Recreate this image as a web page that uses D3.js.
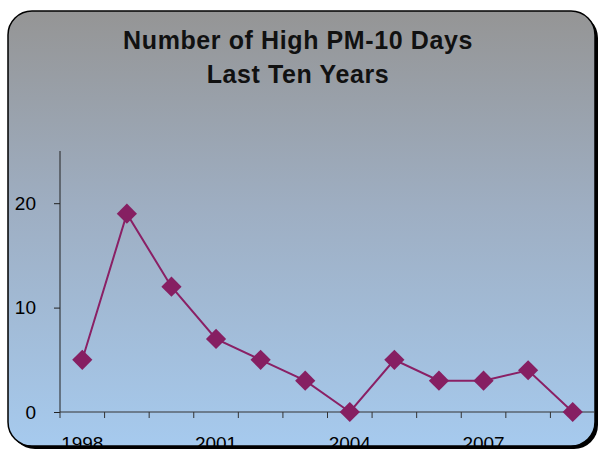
<!DOCTYPE html>
<html>
<head>
<meta charset="utf-8">
<script src="https://cdn.jsdelivr.net/npm/d3@7"></script>
<style>
  body { margin: 0; background: #fff; }
  svg { display: block; font-family: "Liberation Sans", Arial, sans-serif; }
</style>
</head>
<body>
<div id="chart"></div>
<script>
// Data.
const years = [1998, 1999, 2000, 2001, 2002, 2003, 2004, 2005, 2006, 2007, 2008, 2009];
const highDays = [5, 19, 12, 7, 5, 3, 0, 5, 3, 3, 4, 0];
const yTicks = [0, 10, 20];
const yearLabels = [1998, 2001, 2004, 2007];
const titleLines = ['Number of High PM-10 Days', 'Last Ten Years'];

const width = 600, height = 450;
const frame = { x: 8, y: 11, w: 587, h: 435, r: 24 };
const plot = { left: 60, right: 595, top: 151, bottom: 412 };

const svg = d3.select('#chart')
  .append('svg')
  .attr('width', width)
  .attr('height', height);

const defs = svg.append('defs');

// Background gradient.
const grad = defs.append('linearGradient')
  .attr('id', 'bg')
  .attr('x1', 0).attr('y1', 0)
  .attr('x2', 0).attr('y2', 1);
grad.append('stop').attr('offset', '0%').attr('stop-color', '#959595');
grad.append('stop').attr('offset', '45%').attr('stop-color', '#9eaec2');
grad.append('stop').attr('offset', '100%').attr('stop-color', '#a6caee');

defs.append('clipPath')
  .attr('id', 'frameClip')
  .append('rect')
  .attr('x', frame.x).attr('y', frame.y)
  .attr('width', frame.w).attr('height', frame.h)
  .attr('rx', frame.r);

// Frame shadow + frame.
svg.append('rect')
  .attr('x', frame.x + 3).attr('y', frame.y + 3)
  .attr('width', frame.w).attr('height', frame.h)
  .attr('rx', frame.r)
  .attr('fill', '#000');

svg.append('rect')
  .attr('x', frame.x).attr('y', frame.y)
  .attr('width', frame.w).attr('height', frame.h)
  .attr('rx', frame.r)
  .attr('fill', 'url(#bg)')
  .attr('stroke', '#000')
  .attr('stroke-width', 1.5);

const g = svg.append('g').attr('clip-path', 'url(#frameClip)');

// Title.
g.append('text')
  .attr('text-anchor', 'middle')
  .attr('font-weight', 'bold')
  .attr('font-size', '25px')
  .attr('letter-spacing', '0.6px')
  .attr('fill', '#111')
  .selectAll('tspan')
  .data(titleLines)
  .join('tspan')
  .attr('x', 298)
  .attr('y', (d, i) => 49 + i * 34)
  .text(d => d);

// Scales.
const x = d3.scaleBand()
  .domain(years)
  .range([plot.left, plot.right])
  .padding(0);

const y = d3.scaleLinear()
  .domain([0, 25])
  .range([plot.bottom, plot.top]);

// Y axis.
const yAxis = d3.axisLeft(y)
  .tickValues(yTicks)
  .tickSize(6)
  .tickPadding(18)
  .tickFormat(d3.format('d'));

const yAxisDraw = g.append('g')
  .attr('transform', `translate(${plot.left},0)`)
  .call(yAxis);
yAxisDraw.select('.domain').remove();
yAxisDraw.selectAll('line').attr('stroke', '#222');
yAxisDraw.selectAll('text')
  .attr('font-size', '19px')
  .attr('font-family', '"Liberation Sans", Arial, sans-serif')
  .attr('fill', '#000');

g.append('line')
  .attr('x1', plot.left).attr('x2', plot.left)
  .attr('y1', plot.top).attr('y2', plot.bottom)
  .attr('stroke', '#222');

// X axis: ticks between categories, labels every third year.
const edges = years.map(d => x(d)).concat([plot.right]);
g.append('line')
  .attr('x1', plot.left).attr('x2', plot.right)
  .attr('y1', plot.bottom).attr('y2', plot.bottom)
  .attr('stroke', '#333');

g.append('g')
  .selectAll('line')
  .data(edges)
  .join('line')
  .attr('x1', d => d).attr('x2', d => d)
  .attr('y1', plot.bottom).attr('y2', plot.bottom + 6)
  .attr('stroke', '#333');

g.append('g')
  .selectAll('text')
  .data(yearLabels)
  .join('text')
  .attr('x', d => x(d) + x.bandwidth() / 2)
  .attr('y', 450)
  .attr('text-anchor', 'middle')
  .attr('font-size', '19px')
  .attr('fill', '#000')
  .text(d => d);

// Line + markers.
const line = d3.line()
  .x((d, i) => x(years[i]) + x.bandwidth() / 2)
  .y(d => y(d));

g.append('path')
  .datum(highDays)
  .attr('d', line)
  .attr('fill', 'none')
  .attr('stroke', '#8a2065')
  .attr('stroke-width', 2);

const diamond = d3.symbol().type(d3.symbolDiamond2).size(260);

g.append('g')
  .selectAll('path')
  .data(highDays)
  .join('path')
  .attr('d', diamond)
  .attr('transform', (d, i) => `translate(${x(years[i]) + x.bandwidth() / 2},${y(d)})`)
  .attr('fill', '#861f62');
</script>
</body>
</html>
